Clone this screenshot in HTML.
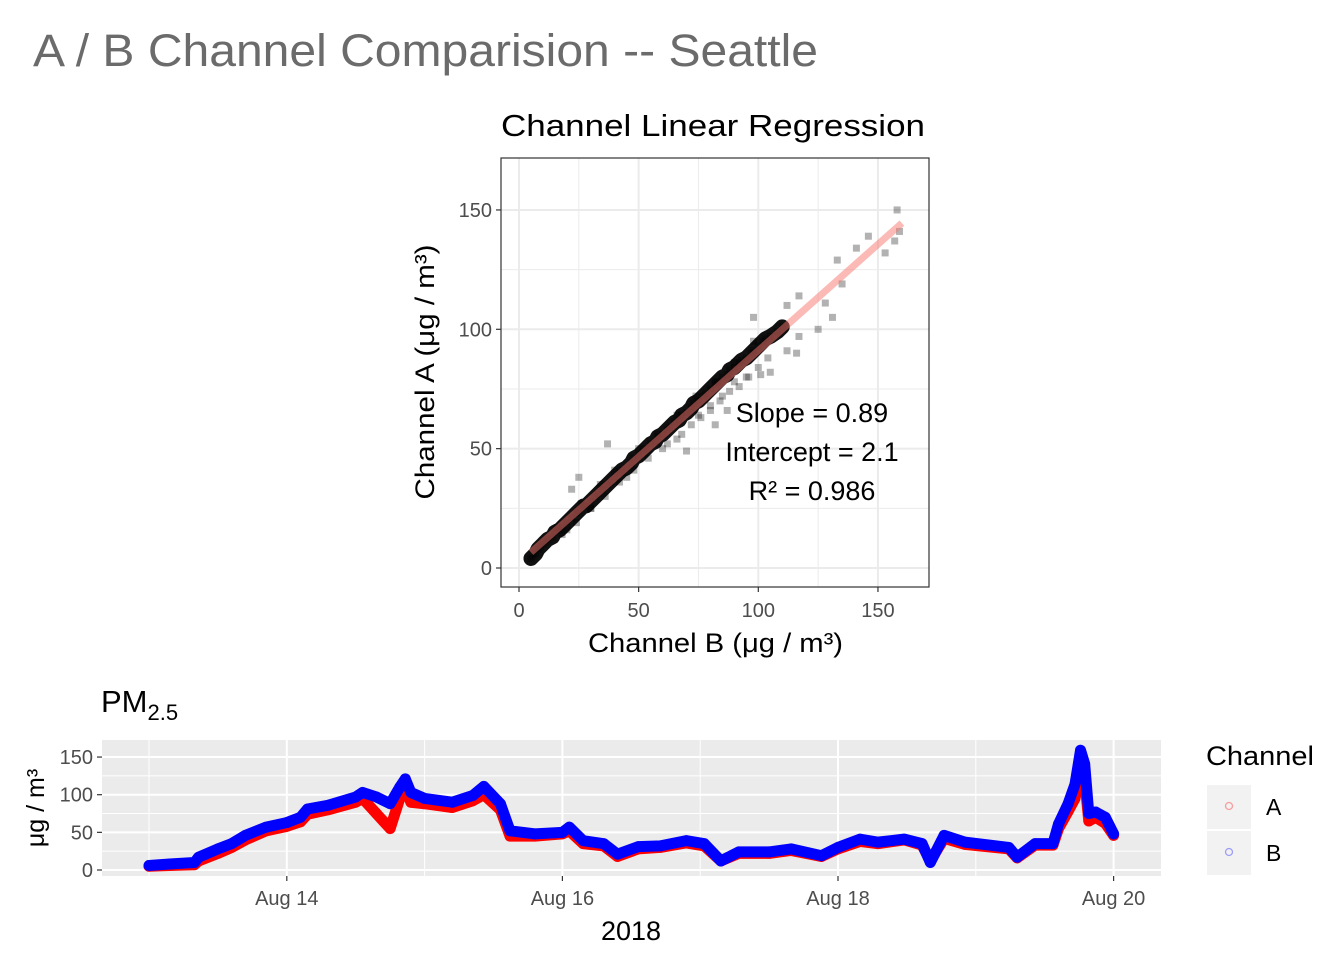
<!DOCTYPE html>
<html><head><meta charset="utf-8"><style>
html,body{margin:0;padding:0;background:#fff}
svg{display:block;font-family:"Liberation Sans",Arial,sans-serif}
</style></head><body>
<svg id="chart" width="1344" height="960" viewBox="0 0 1344 960">
<text x="33" y="66" font-size="45" fill="#6b6b6b" textLength="785" lengthAdjust="spacingAndGlyphs">A / B Channel Comparision -- Seattle</text>
<text x="501" y="136" font-size="31" fill="#000" textLength="424" lengthAdjust="spacingAndGlyphs">Channel Linear Regression</text>
<g id="scatter"></g>
<text x="588" y="652" font-size="27" textLength="255" lengthAdjust="spacingAndGlyphs">Channel B (μg / m³)</text>
<text transform="translate(434,372) rotate(-90)" font-size="27" text-anchor="middle" textLength="255" lengthAdjust="spacingAndGlyphs">Channel A (μg / m³)</text>
<text x="101" y="712" font-size="31">PM<tspan font-size="22" dy="8">2.5</tspan></text>
<g id="ts"></g>
<text transform="translate(44,808) rotate(-90)" font-size="25" text-anchor="middle">μg / m³</text>
<text x="631" y="940" font-size="27" text-anchor="middle">2018</text>
<g>
<text x="1206" y="765" font-size="27" textLength="108" lengthAdjust="spacingAndGlyphs">Channel</text>
<rect x="1207" y="785" width="44" height="44" fill="#f2f2f2"/>
<circle cx="1229" cy="806" r="3.5" fill="none" stroke="#ff0000" stroke-opacity="0.35" stroke-width="1.3"/>
<text x="1266" y="815" font-size="23">A</text>
<rect x="1207" y="831" width="44" height="44" fill="#f2f2f2"/>
<circle cx="1229" cy="852" r="3.5" fill="none" stroke="#0000ff" stroke-opacity="0.35" stroke-width="1.3"/>
<text x="1266" y="861" font-size="23">B</text>
</g>
</svg>
<script>
// ---- scatter data ----
const scatterB=[5,6,7,8,9,10,11,12,14,15,17,18,20,22,24,25,27,28,30,32,33,35,37,38,40,42,43,45,47,48,50,52,53,55,57,58,60,62,63,65,67,68,70,72,73,75,77,78,80,82,83,85,87,88,90,92,93,95,97,98,100,102,103,105,108,110,
 22,25,37,70,82,87,66,75,80,85,90,95,101,105,112,116,117,112,117,98,125,131,128,135,133,141,146,153,157,159,158,60,45,30,20,
 18,24,30,36,42,48,54,62,68,72,76,80,84,88,92,96,100,104,16,26,34,40,50,58,66,74,82,90,98];
const scatterA=[4,5,6,8,9,10,11,12,13,15,16,17,19,21,23,24,26,26,28,30,31,33,35,36,38,40,41,42,44,46,47,49,50,52,53,55,56,58,59,61,62,64,65,67,69,70,72,73,75,77,78,80,81,83,84,86,87,88,90,91,93,95,96,97,99,101,
 33,38,52,49,60,66,54,64,68,72,78,80,81,82,91,90,97,110,114,105,100,105,111,119,129,134,139,132,137,141,150,50,38,25,16,
 14,19,25,30,36,41,46,52,56,60,63,66,70,74,76,80,84,88,17,27,35,41,50,56,64,72,78,86,95];
const fitSlope=0.89, fitIntercept=2.1;
const sTicks=[0,50,100,150];
const sLabels=["0","50","100","150"];
const statLines=["Slope = 0.89","Intercept = 2.1","R² = 0.986"];

// ---- time series data (days since Aug 13) ----
const tsDays=[0,0.15,0.33,0.36,0.5,0.6,0.7,0.85,1.0,1.1,1.15,1.3,1.5,1.55,1.65,1.75,1.82,1.86,1.9,2.0,2.2,2.35,2.43,2.55,2.62,2.8,3.0,3.05,3.15,3.3,3.4,3.55,3.71,3.9,4.03,4.15,4.28,4.5,4.66,4.88,5.0,5.16,5.29,5.48,5.61,5.67,5.77,5.92,6.24,6.3,6.43,6.56,6.6,6.67,6.72,6.76,6.79,6.82,6.87,6.94,7.0];
const seriesB=[6,8,10,17,28,35,46,57,63,70,81,86,97,103,97,88,110,121,103,95,90,99,111,88,52,48,50,57,39,35,21,31,32,39,35,12,24,24,28,19,30,41,37,41,35,10,46,37,30,17,35,35,61,88,114,159,141,75,77,70,48];
const seriesA=[5,6,7,12,22,30,40,52,58,64,74,80,90,95,75,55,95,110,90,88,83,92,100,80,45,45,48,52,35,32,18,28,30,36,32,12,22,22,26,18,28,38,35,40,33,12,42,34,28,16,33,33,55,78,95,135,120,65,70,62,46];
const tsYTicks=[0,50,100,150];
const tsXTicks=[1,3,5,7];
const tsXLabels=["Aug 14","Aug 16","Aug 18","Aug 20"];

const NS="http://www.w3.org/2000/svg";
function mk(p,tag,at){const e=document.createElementNS(NS,tag);for(const k in at)e.setAttribute(k,at[k]);p.appendChild(e);return e;}

// scatter
const sc=document.getElementById('scatter');
const L=501,R=929,T=158,B=587;
const sx=v=>519+v*2.393, sy=v=>568-v*2.387;
let bg=mk(sc,'rect',{x:L,y:T,width:R-L,height:B-T,fill:'#fff'});

[25,75,125].forEach(v=>{mk(sc,'line',{x1:sx(v),x2:sx(v),y1:T,y2:B,stroke:'#ebebeb','stroke-width':1});mk(sc,'line',{y1:sy(v),y2:sy(v),x1:L,x2:R,stroke:'#ebebeb','stroke-width':1});});
sTicks.forEach((v,i)=>{
 mk(sc,'line',{x1:sx(v),x2:sx(v),y1:T,y2:B,stroke:'#ebebeb','stroke-width':2});
 mk(sc,'line',{y1:sy(v),y2:sy(v),x1:L,x2:R,stroke:'#ebebeb','stroke-width':2});
 mk(sc,'line',{x1:sx(v),x2:sx(v),y1:B,y2:B+5,stroke:'#333','stroke-width':1.2});
 mk(sc,'line',{y1:sy(v),y2:sy(v),x1:L-5,x2:L,stroke:'#333','stroke-width':1.2});
 let t=mk(sc,'text',{x:sx(v),y:B+30,'font-size':20,fill:'#4d4d4d','text-anchor':'middle'});t.textContent=sLabels[i];
 
 let u=mk(sc,'text',{x:L-9,y:sy(v)+7,'font-size':20,fill:'#4d4d4d','text-anchor':'end'});u.textContent=sLabels[i];
 
});
// dense band
const band=scatterB.slice(0,66).map((b,i)=>sx(b)+','+sy(scatterA[i])).join(' ');
let bd=mk(sc,'polyline',{points:band,fill:'none',stroke:'#111','stroke-width':15,'stroke-linecap':'round','stroke-linejoin':'round'});

scatterB.forEach((b,i)=>{
 let r=mk(sc,'rect',{x:sx(b)-3.5,y:sy(scatterA[i])-3.5,width:7,height:7,fill:'#000','fill-opacity':0.3});
 
});
let fl=mk(sc,'line',{x1:sx(5),y1:sy(fitSlope*5+fitIntercept),x2:sx(160),y2:sy(fitSlope*160+fitIntercept),stroke:'#f8766d','stroke-opacity':0.5,'stroke-width':7});

mk(sc,'rect',{x:L,y:T,width:R-L,height:B-T,fill:'none',stroke:'#333','stroke-width':1.2});
statLines.forEach((s,i)=>{let t=mk(sc,'text',{x:812,y:422+i*39,'font-size':27,'text-anchor':'middle',fill:'#000'});t.textContent=s;
 });

// time series
const ts=document.getElementById('ts');
const tL=102,tR=1161,tT=740,tB=876;
const tx=d=>149+d*137.8, ty=v=>870-v*0.753;
let tbg=mk(ts,'rect',{x:tL,y:tT,width:tR-tL,height:tB-tT,fill:'#ebebeb'});

[25,75,125].forEach(v=>mk(ts,'line',{x1:tL,x2:tR,y1:ty(v),y2:ty(v),stroke:'#fff','stroke-width':1}));
[0,2,4,6].forEach(d=>mk(ts,'line',{x1:tx(d),x2:tx(d),y1:tT,y2:tB,stroke:'#fff','stroke-width':1}));
tsYTicks.forEach(v=>{
 mk(ts,'line',{x1:tL,x2:tR,y1:ty(v),y2:ty(v),stroke:'#fff','stroke-width':2});
 mk(ts,'line',{x1:tL-5,x2:tL,y1:ty(v),y2:ty(v),stroke:'#333','stroke-width':1.2});
 let t=mk(ts,'text',{x:tL-9,y:ty(v)+7,'font-size':20,fill:'#4d4d4d','text-anchor':'end'});t.textContent=String(v);
 
});
tsXTicks.forEach((d,i)=>{
 mk(ts,'line',{x1:tx(d),x2:tx(d),y1:tT,y2:tB,stroke:'#fff','stroke-width':2});
 mk(ts,'line',{x1:tx(d),x2:tx(d),y1:tB,y2:tB+5,stroke:'#333','stroke-width':1.2});
 let t=mk(ts,'text',{x:tx(d),y:tB+29,'font-size':20,fill:'#4d4d4d','text-anchor':'middle'});t.textContent=tsXLabels[i];
 
});
function drawSeries(vals,col,name){
 let p=mk(ts,'polyline',{points:tsDays.map((d,i)=>tx(d)+','+ty(vals[i])).join(' '),fill:'none',stroke:col,'stroke-width':11,'stroke-linejoin':'round','stroke-linecap':'round'});
 
 tsDays.forEach((d,i)=>{let c=mk(ts,'circle',{cx:tx(d),cy:ty(vals[i]),r:5,fill:col,'fill-opacity':0.5,stroke:col,'stroke-opacity':0.5});
  });
}
drawSeries(seriesA,'#ff0000','channel-a');
drawSeries(seriesB,'#0000ff','channel-b');
</script>
</body></html>
